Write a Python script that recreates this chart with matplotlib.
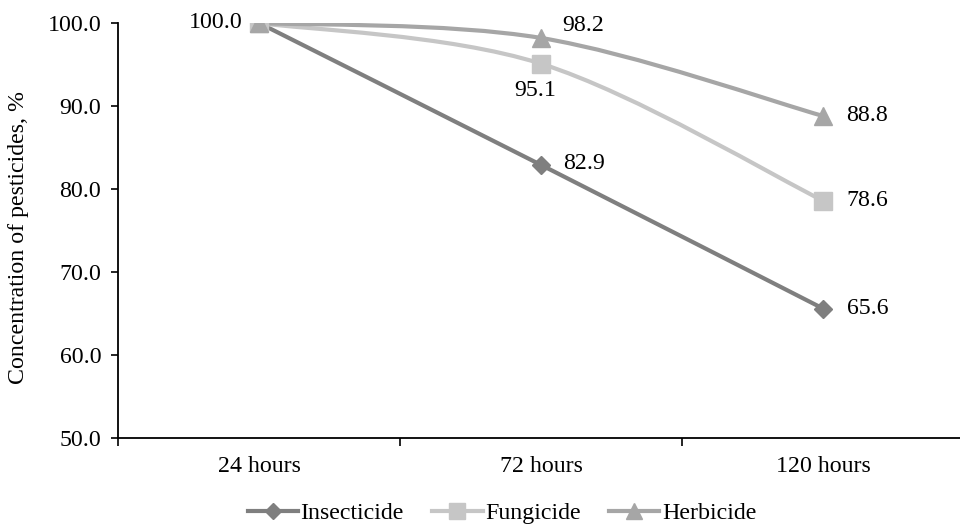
import numpy as np
import matplotlib
matplotlib.use('Agg')
import matplotlib.pyplot as plt
from matplotlib.path import Path
from matplotlib.patches import PathPatch
from matplotlib.lines import Line2D

plt.rcParams['font.family'] = ['Liberation Serif', 'DejaVu Serif']
FS = 17.2

# data
categories = ['24 hours', '72 hours', '120 hours']
insecticide = [100.0, 82.9, 65.6]
fungicide = [100.0, 95.1, 78.6]
herbicide = [100.0, 98.2, 88.8]
series_names = ['Insecticide', 'Fungicide', 'Herbicide']
yticks = [50, 60, 70, 80, 90, 100]

# style per series: colour, marker, markersize
styles = {'Insecticide': ('#7f7f7f', 'D', 9.5),
          'Fungicide': ('#c6c6c6', 's', 12.8),
          'Herbicide': ('#a6a6a6', '^', 13.5)}

def smooth_path(xs, ys):
    # excel-like smoothed line: cubic bezier, tangent = (P[i+1]-P[i-1])/6
    P = np.column_stack([xs, ys]).astype(float)
    n = len(P)
    verts = [P[0]]; codes = [Path.MOVETO]
    for i in range(n - 1):
        pm = P[max(i - 1, 0)]; p0 = P[i]; p1 = P[i + 1]; p2 = P[min(i + 2, n - 1)]
        c1 = p0 + (p1 - pm) / 6.0
        c2 = p1 - (p2 - p0) / 6.0
        verts += [c1, c2, p1]; codes += [Path.CURVE4] * 3
    return Path(verts, codes)

fig = plt.figure(figsize=(9.6, 5.25), dpi=100)
ax = fig.add_axes([118 / 960, 87 / 525, 846 / 960, 415 / 525])
x = np.arange(len(categories))

handles = []
for name, vals in [('Insecticide', insecticide), ('Fungicide', fungicide), ('Herbicide', herbicide)]:
    col, mk, ms = styles[name]
    ax.add_patch(PathPatch(smooth_path(x, vals), fill=False, edgecolor=col, lw=3, capstyle='round', zorder=2))
    ax.plot(x, vals, linestyle='none', marker=mk, ms=ms, color=col, mec=col, zorder=3)
    handles.append(Line2D([], [], color=col, lw=3, marker=mk, ms=ms * 0.85, mec=col))

# data labels (offsets in points)
def lab(xi, yi, txt, dx, dy, ha='left'):
    ax.annotate(txt, (xi, yi), xytext=(dx, dy), textcoords='offset points',
                ha=ha, va='center', fontsize=FS, color='black')

lab(0, 100.0, '100.0', -12, 0, ha='right')
lab(1, herbicide[1], f'{herbicide[1]:.1f}', 15, 9)
lab(1, fungicide[1], f'{fungicide[1]:.1f}', -4, -19, ha='center')
lab(1, insecticide[1], f'{insecticide[1]:.1f}', 16, 1)
lab(2, herbicide[2], f'{herbicide[2]:.1f}', 17, 0)
lab(2, fungicide[2], f'{fungicide[2]:.1f}', 17, 0)
lab(2, insecticide[2], f'{insecticide[2]:.1f}', 17, 0)

ax.set_xlim(-0.5, 2.5)
ax.set_ylim(50, 100)
ax.set_yticks(yticks)
ax.set_yticklabels([f'{v:.1f}' for v in yticks], fontsize=FS)
ax.set_xticks(x)
ax.set_xticklabels(categories, fontsize=FS)
ax.set_xticks([-0.5, 0.5, 1.5, 2.5], minor=True)
ax.tick_params(axis='x', which='major', length=0, pad=13)
ax.tick_params(axis='x', which='minor', length=6, width=1.2, direction='out')
ax.tick_params(axis='y', length=5, width=1.2, direction='out', pad=7)
for s in ['top', 'right']:
    ax.spines[s].set_visible(False)
for s in ['left', 'bottom']:
    ax.spines[s].set_linewidth(1.3)
ax.patch.set_visible(False)

fig.text(19 / 960, 1 - 237 / 525, 'Concentration of pesticides, %', rotation=90,
         ha='center', va='center', fontsize=FS)

fig.legend(handles, series_names, loc='center', bbox_to_anchor=(502 / 960, 1 - 513 / 525),
           ncol=3, frameon=False, fontsize=FS, handlelength=2.1, handletextpad=0.1,
           columnspacing=1.2, borderaxespad=0, borderpad=0)

fig.savefig('out.png', dpi=100)
